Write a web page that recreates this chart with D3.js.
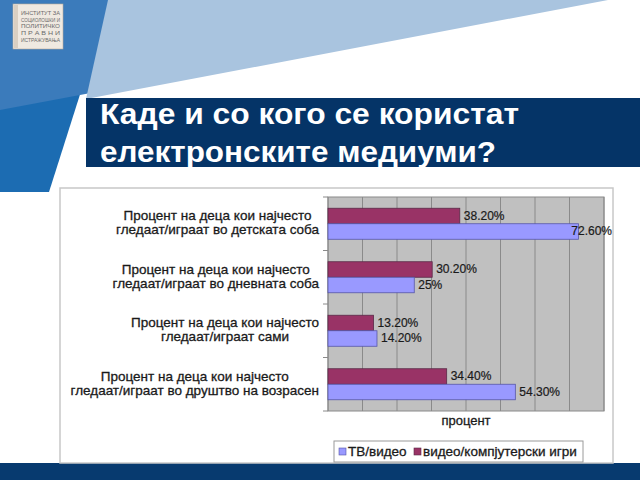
<!DOCTYPE html>
<html>
<head>
<meta charset="utf-8">
<script src="https://cdn.jsdelivr.net/npm/d3@7"></script>
<style>
  html, body { margin: 0; padding: 0; background: #ffffff; }
  svg { display: block; font-family: "Liberation Sans", Arial, sans-serif; }
</style>
</head>
<body>
<svg id="chart" width="640" height="480"></svg>
<script>
// ---------------- DATA ----------------
const title = ["Каде и со кого се користат", "електронските медиуми?"];
const categories = [
  ["Процент на деца кои најчесто", "гледаат/играат во детската соба"],
  ["Процент на деца кои најчесто", "гледаат/играат во дневната соба"],
  ["Процент на деца кои најчесто", "гледаат/играат сами"],
  ["Процент на деца кои најчесто", "гледаат/играат во друштво на возрасен"]
];
const seriesNames = ["ТВ/видео", "видео/компјутерски игри"];
const tvVideo = [72.6, 25, 14.2, 54.3];
const games = [38.2, 30.2, 13.2, 34.4];
const tvLabels = ["72.60%", "25%", "14.20%", "54.30%"];
const gameLabels = ["38.20%", "30.20%", "13.20%", "34.40%"];
const xTicks = [0, 10, 20, 30, 40, 50, 60, 70, 80];
const xAxisTitle = "процент";
const logoLines = ["ИНСТИТУТ ЗА", "СОЦИОЛОШКИ И", "ПОЛИТИЧКО", "П Р А В Н И", "ИСТРАЖУВАЊА"];

// ---------------- STYLE ----------------
const colTV = "#9999ff", colGames = "#993366";
const textCol = "#1a1a1a";
const svg = d3.select("#chart");

// background decoration
svg.append("polygon").attr("points", "0,0 110,0 49,192 0,192").attr("fill", "#1c6cb2");
svg.append("polygon").attr("points", "0,0 110,0 96,92 0,110").attr("fill", "#3b7bbb");
svg.append("polygon").attr("points", "108,0 608,0 86,99").attr("fill", "#a9c4df");
svg.append("rect").attr("x", 86).attr("y", 98).attr("width", 554).attr("height", 69).attr("fill", "#053467");
svg.append("rect").attr("x", 0).attr("y", 463).attr("width", 640).attr("height", 17).attr("fill", "#073a6f");

// logo
const logo = svg.append("g");
logo.append("rect").attr("x", 13).attr("y", 4).attr("width", 50).attr("height", 45).attr("fill", "#efe9e1").attr("stroke", "#b8ab9a").attr("stroke-width", 0.6);
logo.append("rect").attr("x", 14).attr("y", 5).attr("width", 4).attr("height", 43).attr("fill", "#d9cfc2");
logo.selectAll("text.l").data(logoLines).join("text")
  .attr("x", 21).attr("y", (d, i) => 15 + i * 6.7)
  .attr("font-size", 5.2).attr("fill", "#6a6a6a")
  .attr("textLength", 39).attr("lengthAdjust", "spacingAndGlyphs")
  .text(d => d);

// title
svg.selectAll("text.title").data(title).join("text")
  .attr("class", "title")
  .attr("x", 100).attr("y", (d, i) => 124 + i * 38)
  .attr("fill", "#ffffff").attr("font-weight", "bold").attr("font-size", 29)
  .attr("textLength", (d, i) => i === 0 ? 419 : 396).attr("lengthAdjust", "spacingAndGlyphs")
  .text(d => d);

// chart frame
const frame = { x: 60, y: 188, w: 553, h: 275 };
svg.append("rect").attr("x", frame.x).attr("y", frame.y).attr("width", frame.w).attr("height", frame.h)
  .attr("fill", "#ffffff").attr("stroke", "#c8c8c8").attr("stroke-width", 1.5);

const plot = { left: 328, right: 604, top: 197, bottom: 411 };
const x = d3.scaleLinear().domain([0, 80]).range([plot.left, plot.right]);
const y = d3.scaleBand().domain(d3.range(categories.length)).range([plot.top, plot.bottom])
  .paddingInner(0.42).paddingOuter(0.21);
const ySub = d3.scaleBand().domain(["games", "tv"]).range([0, y.bandwidth()]);

// plot background
svg.append("rect").attr("x", plot.left).attr("y", plot.top)
  .attr("width", plot.right - plot.left).attr("height", plot.bottom - plot.top)
  .attr("fill", "#c0c0c0");

// gridlines
svg.append("g").selectAll("line").data(xTicks).join("line")
  .attr("x1", d => x(d)).attr("x2", d => x(d))
  .attr("y1", plot.top).attr("y2", plot.bottom)
  .attr("stroke", "#8a8a8a").attr("stroke-width", 1);

svg.append("rect").attr("x", plot.left).attr("y", plot.top)
  .attr("width", plot.right - plot.left).attr("height", plot.bottom - plot.top)
  .attr("fill", "none").attr("stroke", "#8a8a8a").attr("stroke-width", 1);

// y-axis ticks at category boundaries
const boundaries = d3.range(categories.length + 1).map(i => plot.top + i * (plot.bottom - plot.top) / categories.length);
svg.append("g").selectAll("line").data(boundaries).join("line")
  .attr("x1", plot.left - 5).attr("x2", plot.left)
  .attr("y1", d => d).attr("y2", d => d)
  .attr("stroke", "#8a8a8a");

// bars
const groups = svg.append("g").selectAll("g").data(categories.map((c, i) => i)).join("g")
  .attr("transform", i => `translate(0,${y(i)})`);

groups.append("rect")
  .attr("x", x(0)).attr("y", ySub("games"))
  .attr("width", i => x(games[i]) - x(0)).attr("height", ySub.bandwidth())
  .attr("fill", colGames).attr("stroke", "#5a2a48").attr("stroke-width", 0.8);
groups.append("rect")
  .attr("x", x(0)).attr("y", ySub("tv"))
  .attr("width", i => x(tvVideo[i]) - x(0)).attr("height", ySub.bandwidth())
  .attr("fill", colTV).attr("stroke", "#5656a8").attr("stroke-width", 0.8);

// value labels
function addLabel(g, key, vals, labs) {
  g.append("text")
    .attr("y", ySub(key) + ySub.bandwidth() / 2 + 0.5)
    .attr("dominant-baseline", "middle")
    .attr("font-size", 12).attr("fill", textCol)
    .attr("stroke", textCol).attr("stroke-width", 0.2)
    .text(i => labs[i])
    .each(function (i) {
      const w = this.getComputedTextLength();
      const px = Math.min(x(vals[i]) + 4, frame.x + frame.w - w - 1);
      d3.select(this).attr("x", px);
    });
}
addLabel(groups, "games", games, gameLabels);
addLabel(groups, "tv", tvVideo, tvLabels);

// category labels (centered lines, block right-aligned)
const labelRight = 319;
groups.each(function (i) {
  const g = d3.select(this);
  const lines = categories[i];
  const texts = lines.map((t, k) => g.append("text")
    .attr("y", y.bandwidth() / 2 + (k - (lines.length - 1) / 2) * 14)
    .attr("dominant-baseline", "middle")
    .attr("font-size", 13.5).attr("fill", textCol)
    .attr("stroke", textCol).attr("stroke-width", 0.3)
    .attr("text-anchor", "middle")
    .text(t));
  const maxW = d3.max(texts, t => t.node().getComputedTextLength());
  texts.forEach(t => t.attr("x", labelRight - maxW / 2));
});

// axis title
svg.append("text").attr("x", (plot.left + plot.right) / 2).attr("y", 425)
  .attr("text-anchor", "middle").attr("font-size", 13).attr("fill", textCol)
  .attr("stroke", textCol).attr("stroke-width", 0.3)
  .text(xAxisTitle);

// legend
const legend = svg.append("g");
legend.append("rect").attr("x", 334).attr("y", 441).attr("width", 249).attr("height", 21)
  .attr("fill", "#ffffff").attr("stroke", "#9a9a9a");
const legendItems = [
  { name: seriesNames[0], color: colTV, stroke: "#5656a8", x: 339 },
  { name: seriesNames[1], color: colGames, stroke: "#5a2a48", x: 414 }
];
legend.selectAll("rect.sw").data(legendItems).join("rect")
  .attr("x", d => d.x).attr("y", 448).attr("width", 7).attr("height", 7)
  .attr("fill", d => d.color).attr("stroke", d => d.stroke).attr("stroke-width", 0.6);
legend.selectAll("text").data(legendItems).join("text")
  .attr("x", d => d.x + 9).attr("y", 452).attr("dominant-baseline", "middle")
  .attr("font-size", 13.5).attr("fill", textCol)
  .attr("stroke", textCol).attr("stroke-width", 0.3)
  .text(d => d.name);
</script>
</body>
</html>
